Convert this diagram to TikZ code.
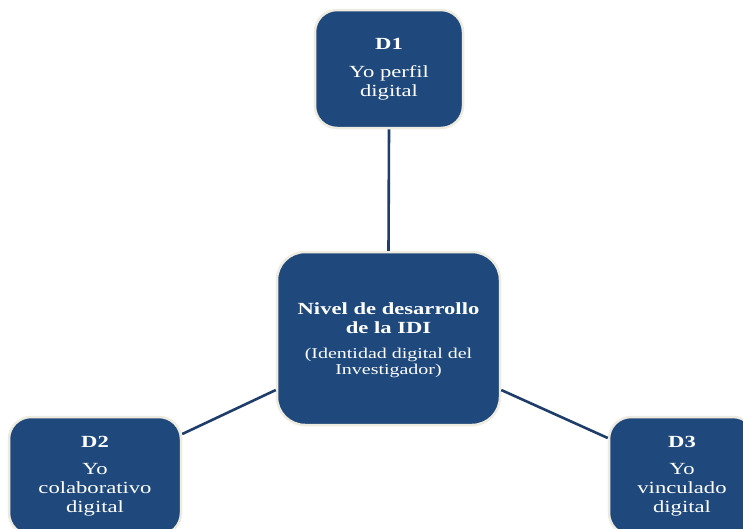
\documentclass[tikz,border=0pt]{standalone}
\usepackage{fontspec}
\setmainfont{Liberation Serif}[FakeStretch=1.33]
\definecolor{boxblue}{HTML}{1F497D}
\definecolor{boxedge}{HTML}{EEECE1}
\definecolor{linkblue}{HTML}{1F3D6B}
\tikzset{
  dbox/.style={draw=boxedge, line width=2.5pt, fill=boxblue, rounded corners=22pt,
    text=white, align=center, inner sep=0pt, font=\fontsize{17}{19}\selectfont},
  link/.style={draw=linkblue, line width=2.6pt},
}
\begin{document}
\begin{tikzpicture}[x=1pt,y=-1pt]
\useasboundingbox (0,0) rectangle (743,528);
\clip (0,0) rectangle (743,528);
\fill[white] (0,0) rectangle (743,528);
\node[dbox, minimum width=148pt, minimum height=118pt] (d1) at (389,69)
  {\textbf{D1}\\[9pt]Yo perfil\\digital};
\node[dbox, minimum width=223pt, minimum height=173pt, rounded corners=28pt] (c) at (388.5,338.5)
  {\rule{0pt}{15pt}\textbf{Nivel de desarrollo}\\\textbf{de la IDI}\\[6pt]{\fontsize{15}{16}\selectfont (Identidad digital del}\\[-3pt]{\fontsize{15}{16}\selectfont Investigador)}};
\node[dbox, minimum width=172pt, minimum height=118pt] (d2) at (95,476)
  {\textbf{D2}\\[8pt]Yo\\colaborativo\\digital};
\node[dbox, minimum width=146pt, minimum height=118pt] (d3) at (682,476)
  {\textbf{D3}\\[8pt]Yo\\vinculado\\digital};
\draw[link] (d1.south) -- (c.north);
\draw[link] ([yshift=-51.5pt]c.west) -- ([yshift=42pt]d2.east);
\draw[link] ([yshift=-51.5pt]c.east) -- ([yshift=38pt]d3.west);
\end{tikzpicture}
\end{document}
